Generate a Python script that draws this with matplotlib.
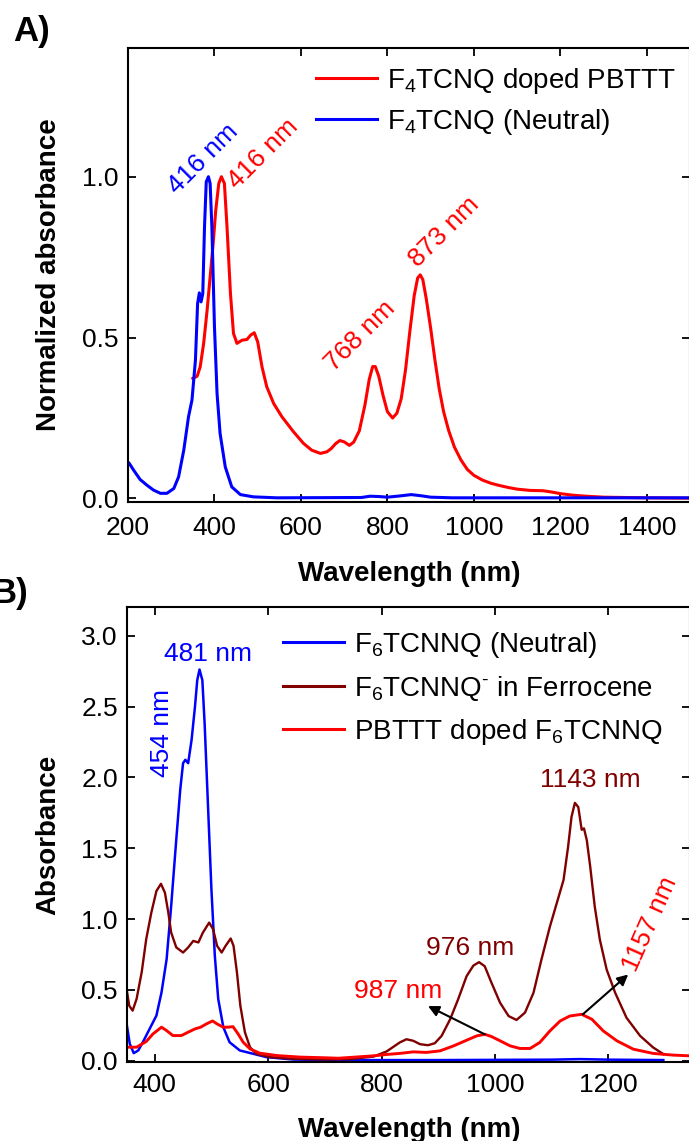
import matplotlib
matplotlib.use("Agg")
import matplotlib.pyplot as plt

plt.rcParams['font.family'] = ['Liberation Sans', 'DejaVu Sans']
plt.rcParams['mathtext.fontset'] = 'custom'
plt.rcParams['mathtext.rm'] = 'Liberation Sans'
plt.rcParams['mathtext.it'] = 'Liberation Sans:italic'
plt.rcParams['mathtext.bf'] = 'Liberation Sans:bold'
plt.rcParams['mathtext.default'] = 'regular'

# ---------------- Panel A data ----------------
a_red_wl = [350, 360, 367, 375, 383, 390, 397, 403, 410, 416, 423, 429, 437, 444, 452, 464,
            475, 484, 492, 500, 510, 521, 537, 556, 583, 606, 625, 645, 660, 670, 680, 690,
            700, 712, 722, 735, 748, 758, 766, 772, 780, 790, 800, 812, 822, 832, 842, 852,
            862, 870, 876, 882, 890, 900, 910, 920, 930, 942, 955, 970, 985, 1000, 1020, 1040,
            1060, 1080, 1100, 1130, 1160, 1180, 1200, 1230, 1260, 1300, 1350, 1400, 1500]
a_red_ab = [0.373, 0.38, 0.409, 0.482, 0.585, 0.689, 0.793, 0.896, 0.979, 1.0, 0.979, 0.845, 0.637, 0.513, 0.482, 0.492,
            0.494, 0.508, 0.515, 0.487, 0.409, 0.347, 0.295, 0.254, 0.207, 0.171, 0.150, 0.140, 0.145, 0.155, 0.17, 0.18,
            0.176, 0.165, 0.175, 0.21, 0.29, 0.37, 0.41, 0.41, 0.38, 0.32, 0.27, 0.25, 0.265, 0.31, 0.40, 0.52,
            0.63, 0.685, 0.695, 0.68, 0.62, 0.53, 0.43, 0.34, 0.27, 0.21, 0.16, 0.12, 0.09, 0.072, 0.057, 0.047,
            0.04, 0.034, 0.029, 0.025, 0.024, 0.02, 0.015, 0.01, 0.007, 0.004, 0.003, 0.002, 0.001]

a_blue_wl = [200, 202, 213, 228, 244, 259, 275, 290, 306, 317, 329, 340, 348, 356, 361, 365,
             369, 373, 377, 381, 386, 390, 394, 400, 406, 413, 425, 440, 460, 490, 544, 740,
             760, 780, 800, 830, 855, 880, 900, 950, 1200, 1500]
a_blue_ab = [0.111, 0.111, 0.088, 0.059, 0.041, 0.026, 0.016, 0.016, 0.031, 0.067, 0.15, 0.254, 0.306, 0.43, 0.606, 0.639,
             0.611, 0.637, 0.845, 0.984, 1.0, 0.979, 0.845, 0.534, 0.326, 0.202, 0.098, 0.036, 0.012, 0.005, 0.002, 0.003,
             0.007, 0.006, 0.004, 0.008, 0.012, 0.008, 0.004, 0.002, 0.002, 0.002]

a_labels = ["F$_4$TCNQ doped PBTTT", "F$_4$TCNQ (Neutral)"]
a_xticks = [200, 400, 600, 800, 1000, 1200, 1400]
a_yticks = [0.0, 0.5, 1.0]

# ---------------- Panel B data ----------------
b_blue_wl = [350, 356, 363, 371, 379, 391, 403, 412, 421, 429, 438, 445, 450, 454, 459, 465,
             471, 475, 479, 484, 488, 494, 500, 506, 512, 521, 532, 550, 574, 597, 644, 703,
             900, 1100, 1150, 1200, 1297]
b_blue_ab = [0.272, 0.12, 0.054, 0.073, 0.131, 0.225, 0.319, 0.483, 0.717, 1.092, 1.561, 1.913, 2.1, 2.124, 2.1, 2.264,
             2.499, 2.686, 2.761, 2.686, 2.382, 1.796, 1.21, 0.741, 0.436, 0.237, 0.131, 0.073, 0.049, 0.026, 0.009, 0.005,
             0.005, 0.008, 0.012, 0.008, 0.005]

b_dark_wl = [350, 355, 361, 368, 377, 385, 394, 403, 411, 418, 424, 429, 438, 450, 459, 468,
             477, 485, 496, 503, 510, 518, 525, 534, 539, 545, 551, 559, 568, 579, 603, 644,
             703, 745, 786, 809, 832, 844, 856, 868, 882, 894, 906, 921, 935, 950, 962, 972,
             982, 994, 1009, 1024, 1038, 1053, 1068, 1082, 1097, 1109, 1121, 1129, 1135, 1141, 1147, 1153,
             1157, 1162, 1168, 1176, 1185, 1197, 1212, 1232, 1256, 1279, 1297]
b_dark_ab = [0.518, 0.389, 0.354, 0.436, 0.624, 0.858, 1.045, 1.198, 1.249, 1.186, 1.045, 0.905, 0.8, 0.764, 0.8, 0.846,
             0.835, 0.905, 0.975, 0.928, 0.811, 0.764, 0.811, 0.863, 0.811, 0.624, 0.389, 0.202, 0.096, 0.049, 0.026, 0.014,
             0.009, 0.012, 0.03, 0.066, 0.129, 0.152, 0.141, 0.117, 0.11, 0.124, 0.176, 0.293, 0.433, 0.597, 0.672, 0.696,
             0.667, 0.55, 0.41, 0.316, 0.288, 0.34, 0.48, 0.714, 0.948, 1.112, 1.276, 1.51, 1.72, 1.82, 1.79, 1.63,
             1.64, 1.557, 1.37, 1.089, 0.855, 0.644, 0.48, 0.304, 0.176, 0.094, 0.047]

b_red_wl = [350, 368, 385, 397, 412, 421, 432, 447, 459, 471, 481, 491, 502, 510, 521, 529,
            538, 547, 556, 568, 585, 615, 656, 703, 724, 786, 810, 832, 856, 879, 903, 927,
            950, 968, 982, 994, 1009, 1027, 1044, 1062, 1079, 1097, 1115, 1132, 1153, 1171, 1191, 1215,
            1244, 1279, 1315, 1344]
b_red_ab = [0.096, 0.096, 0.136, 0.19, 0.237, 0.213, 0.178, 0.178, 0.202, 0.225, 0.237, 0.26, 0.281, 0.26, 0.237, 0.237,
            0.241, 0.19, 0.131, 0.084, 0.054, 0.037, 0.026, 0.021, 0.018, 0.035, 0.045, 0.052, 0.063, 0.059, 0.07, 0.105,
            0.145, 0.176, 0.187, 0.171, 0.141, 0.105, 0.087, 0.087, 0.129, 0.211, 0.281, 0.316, 0.328, 0.293, 0.211, 0.141,
            0.082, 0.052, 0.04, 0.035]

b_labels = ["F$_6$TCNNQ (Neutral)", "F$_6$TCNNQ$^{\\text{-}}$ in Ferrocene", "PBTTT doped F$_6$TCNNQ"]
b_xticks = [400, 600, 800, 1000, 1200]
b_yticks = [0.0, 0.5, 1.0, 1.5, 2.0, 2.5, 3.0]

BLUE = '#0000ff'
RED = '#ff0000'
DARK = '#800000'
TICK_FS = 19
LAB_FS = 20
LEG_FS = 20
ANN_FS = 19

fig = plt.figure(figsize=(6.89, 11.41), dpi=100)
W, H = 689.0, 1141.0


def style_axes(ax, pad):
    for s in ax.spines.values():
        s.set_linewidth(1.5)
    ax.tick_params(which='both', direction='in', top=True, right=True,
                   length=6, width=1.3, labelsize=TICK_FS)
    ax.tick_params(axis='x', pad=pad)
    ax.tick_params(axis='y', pad=7)


# ---------------- Panel A ----------------
axA = fig.add_axes([128 / W, 1 - 502 / H, (690 - 128) / W, (502 - 48) / H])
axA.plot(a_red_wl, a_red_ab, color=RED, lw=2.2, label=a_labels[0])
axA.plot(a_blue_wl, a_blue_ab, color=BLUE, lw=2.2, label=a_labels[1])
axA.set_xlim(200, 1500)
axA.set_ylim(-0.011, 1.4)
axA.set_xticks(a_xticks)
axA.set_yticks(a_yticks)
axA.set_yticklabels(['0.0', '0.5', '1.0'])
style_axes(axA, 10)
axA.set_xlabel('Wavelength (nm)', fontsize=LAB_FS, fontweight='bold', labelpad=15.5)
axA.set_ylabel('Normalized absorbance', fontsize=LAB_FS, fontweight='bold', labelpad=14)
axA.legend(loc='upper left', bbox_to_anchor=(0.335, 0.961), frameon=False, fontsize=LEG_FS,
           handlelength=2.2, handletextpad=0.35, labelspacing=0.39, borderaxespad=0, borderpad=0)

axA.text(373, 1.056, '416 nm', color=BLUE, fontsize=ANN_FS, rotation=45, ha='center', va='center')
axA.text(512, 1.07, '416 nm', color=RED, fontsize=ANN_FS, rotation=45, ha='center', va='center')
axA.text(931, 0.83, '873 nm', color=RED, fontsize=ANN_FS, rotation=45, ha='center', va='center')
axA.text(737, 0.506, '768 nm', color=RED, fontsize=ANN_FS, rotation=45, ha='center', va='center')

fig.text(32 / W, 1 - 31 / H, 'A)', fontsize=25, fontweight='bold', ha='center', va='center')

# ---------------- Panel B ----------------
axB = fig.add_axes([127.5 / W, 1 - 1061.5 / H, (690 - 127.5) / W, (1061.5 - 607.3) / H])
axB.plot(b_blue_wl, b_blue_ab, color=BLUE, lw=1.8, label=b_labels[0])
axB.plot(b_dark_wl, b_dark_ab, color=DARK, lw=1.7, label=b_labels[1])
axB.plot(b_red_wl, b_red_ab, color=RED, lw=2.1, label=b_labels[2])
axB.set_xlim(352, 1344)
axB.set_ylim(-0.005, 3.2)
axB.set_xticks(b_xticks)
axB.set_yticks(b_yticks)
style_axes(axB, 8.5)
axB.set_xlabel('Wavelength (nm)', fontsize=LAB_FS, fontweight='bold', labelpad=14)
axB.set_ylabel('Absorbance', fontsize=LAB_FS, fontweight='bold', labelpad=14)
legB = axB.legend(loc='upper left', bbox_to_anchor=(0.276, 0.950), frameon=False, fontsize=LEG_FS,
                  handlelength=2.2, handletextpad=0.35, labelspacing=0.5, borderaxespad=0, borderpad=0)
for line in legB.get_lines():
    line.set_linewidth(2.2)

axB.text(494, 2.87, '481 nm', color=BLUE, fontsize=ANN_FS, ha='center', va='center')
axB.text(413, 2.31, '454 nm', color=BLUE, fontsize=ANN_FS, rotation=90, ha='center', va='center')
axB.text(1168, 1.98, '1143 nm', color=DARK, fontsize=ANN_FS, ha='center', va='center')
axB.text(957, 0.796, '976 nm', color=DARK, fontsize=ANN_FS, ha='center', va='center')
axB.text(829, 0.49, '987 nm', color=RED, fontsize=ANN_FS, ha='center', va='center')
axB.text(1273, 0.967, '1157 nm', color=RED, fontsize=ANN_FS, rotation=66, ha='center', va='center')

arrow = dict(arrowstyle='-|>', color='k', lw=1.5, mutation_scale=16, shrinkA=0, shrinkB=0)
axB.annotate('', xy=(882, 0.386), xytext=(982, 0.187), arrowprops=arrow)
axB.annotate('', xy=(1235, 0.609), xytext=(1155, 0.328), arrowprops=arrow)

fig.text(10 / W, 1 - 593 / H, 'B)', fontsize=25, fontweight='bold', ha='center', va='center')

fig.savefig('out.png', dpi=100)
